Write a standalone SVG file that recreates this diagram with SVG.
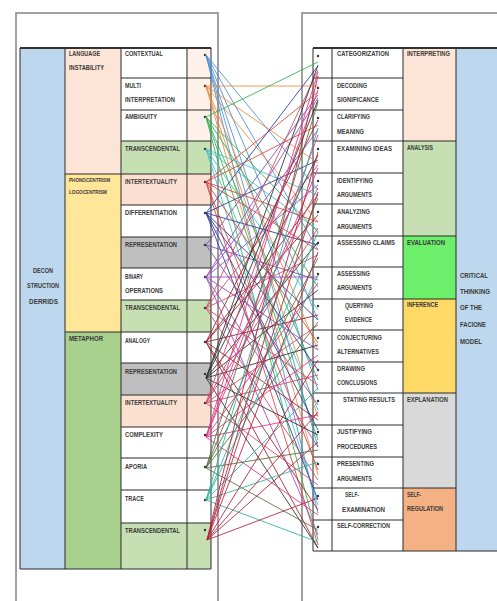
<svg xmlns="http://www.w3.org/2000/svg" width="497" height="601" viewBox="0 0 497 601">
<style>
text{font-family:"Liberation Sans",Arial,sans-serif;font-size:6.6px;font-weight:bold;fill:#3a3a3a}
.sm{font-size:5.6px}
.g{stroke:#2a2a2a;stroke-width:1;fill:none}
.frame{fill:#fff;stroke:#8a8a8a;stroke-width:1.6}
.dot{fill:#333}
#connectors line{stroke-width:1;opacity:.85}
.c1{stroke:#4a8fd6}.c2{stroke:#f08a3c}.c3{stroke:#2cb44c}.c4{stroke:#3cc6c6}
.c5{stroke:#e0403a}.c6{stroke:#2a3a9a}.c7{stroke:#7b4fb0}.c8{stroke:#9a48b8}
.c9{stroke:#d04a6a}.c10{stroke:#a0202a}.c11{stroke:#2e2e2e}.c12{stroke:#d8406a}
.c13{stroke:#e83080}.c14{stroke:#55703a}.c15{stroke:#28b4a0}.c16{stroke:#b8203c}
</style>
<rect width="497" height="601" fill="#fff"/>
<rect class="frame" x="16" y="13" width="202" height="592"/>
<rect class="frame" x="302" y="13" width="200" height="592"/>

<g id="left-table">
<rect x="20" y="48" width="45" height="521" fill="#bdd7ee"/>
<rect x="65" y="48" width="56" height="126" fill="#fce4d6"/>
<rect x="65" y="174" width="56" height="158" fill="#ffe699"/>
<rect x="65" y="332" width="56" height="237" fill="#a9d18e"/>
<rect x="121" y="48" width="66" height="93" fill="#fff"/>
<rect x="187" y="48" width="24" height="93" fill="#fdf1e9"/>
<rect x="121" y="141" width="90" height="33" fill="#c6e0b4"/>
<rect x="121" y="174" width="90" height="31" fill="#fbe0d2"/>
<rect x="121" y="205" width="90" height="32" fill="#fff"/>
<rect x="121" y="237" width="90" height="31" fill="#bfbfbf"/>
<rect x="121" y="268" width="90" height="32" fill="#fff"/>
<rect x="121" y="300" width="90" height="32" fill="#c6e0b4"/>
<rect x="121" y="332" width="90" height="31" fill="#fff"/>
<rect x="121" y="363" width="90" height="32" fill="#bfbfbf"/>
<rect x="121" y="395" width="90" height="32" fill="#fbe0d2"/>
<rect x="121" y="427" width="90" height="96" fill="#fff"/>
<rect x="121" y="523" width="90" height="46" fill="#c6e0b4"/>
<path class="g" d="M20 48H211M20 569H211M20 48V569M65 48V569M121 48V569M187 48V569M211 48V569"/>
<path class="g" d="M121 78H211M121 110H211M121 141H211M65 174H211M121 205H211M121 237H211M121 268H211M121 300H211M65 332H211M121 363H211M121 395H211M121 427H211M121 458H211M121 490H211M121 523H211"/>
<path d="M20 48H211" stroke="#333" stroke-width="2"/>
</g>

<g id="node-deconstruction"><text x="33" y="273" textLength="20" lengthAdjust="spacingAndGlyphs">DECON</text><text x="27" y="288" textLength="32" lengthAdjust="spacingAndGlyphs">STRUCTION</text><text x="29" y="304" textLength="29" lengthAdjust="spacingAndGlyphs">DERRIDS</text></g>
<g id="node-language-instability"><text x="69" y="56" textLength="31" lengthAdjust="spacingAndGlyphs" fill="#6b4a1a">LANGUAGE</text><text x="69" y="70" textLength="35" lengthAdjust="spacingAndGlyphs">INSTABILITY</text></g>
<g id="node-phonocentrism"><text class="sm" x="69" y="182" textLength="41" lengthAdjust="spacingAndGlyphs">PHONOCENTRISM</text><text class="sm" x="69" y="194" textLength="38" lengthAdjust="spacingAndGlyphs">LOGOCENTRISM</text></g>
<g id="node-metaphor"><text x="69" y="341" textLength="34" lengthAdjust="spacingAndGlyphs">METAPHOR</text></g>

<g id="node-l1"><text x="125" y="56" textLength="38" lengthAdjust="spacingAndGlyphs">CONTEXTUAL</text><circle class="dot" cx="205" cy="55" r="1.2"/></g>
<g id="node-l2"><text x="125" y="88" textLength="16" lengthAdjust="spacingAndGlyphs">MULTI</text><text x="125" y="102" textLength="50" lengthAdjust="spacingAndGlyphs">INTERPRETATION</text><circle class="dot" cx="205" cy="86" r="1.2"/></g>
<g id="node-l3"><text x="125" y="119" textLength="32" lengthAdjust="spacingAndGlyphs">AMBIGUITY</text><circle class="dot" cx="205" cy="117" r="1.2"/></g>
<g id="node-l4"><text x="125" y="151" textLength="55" lengthAdjust="spacingAndGlyphs">TRANSCENDENTAL</text><circle class="dot" cx="205" cy="149" r="1.2"/></g>
<g id="node-l5"><text x="125" y="184" textLength="52" lengthAdjust="spacingAndGlyphs">INTERTEXTUALITY</text><circle class="dot" cx="205" cy="182" r="1.2"/></g>
<g id="node-l6"><text x="125" y="215" textLength="52" lengthAdjust="spacingAndGlyphs">DIFFERENTIATION</text><circle class="dot" cx="205" cy="213" r="1.2"/></g>
<g id="node-l7"><text x="125" y="247" textLength="52" lengthAdjust="spacingAndGlyphs">REPRESENTATION</text><circle class="dot" cx="205" cy="245" r="1.2"/></g>
<g id="node-l8"><text x="125" y="279" textLength="18" lengthAdjust="spacingAndGlyphs">BINARY</text><text x="125" y="293" textLength="38" lengthAdjust="spacingAndGlyphs">OPERATIONS</text><circle class="dot" cx="205" cy="277" r="1.2"/></g>
<g id="node-l9"><text x="125" y="310" textLength="55" lengthAdjust="spacingAndGlyphs">TRANSCENDENTAL</text><circle class="dot" cx="205" cy="308" r="1.2"/></g>
<g id="node-l10"><text x="125" y="343" textLength="25" lengthAdjust="spacingAndGlyphs">ANALOGY</text><circle class="dot" cx="205" cy="342" r="1.2"/></g>
<g id="node-l11"><text x="125" y="374" textLength="52" lengthAdjust="spacingAndGlyphs">REPRESENTATION</text><circle class="dot" cx="205" cy="374" r="1.2"/></g>
<g id="node-l12"><text x="125" y="405" textLength="52" lengthAdjust="spacingAndGlyphs">INTERTEXTUALITY</text><circle class="dot" cx="205" cy="403" r="1.2"/></g>
<g id="node-l13"><text x="125" y="437" textLength="38" lengthAdjust="spacingAndGlyphs">COMPLEXITY</text><circle class="dot" cx="205" cy="435" r="1.2"/></g>
<g id="node-l14"><text x="125" y="469" textLength="22" lengthAdjust="spacingAndGlyphs">APORIA</text><circle class="dot" cx="205" cy="467" r="1.2"/></g>
<g id="node-l15"><text x="125" y="501" textLength="19" lengthAdjust="spacingAndGlyphs">TRACE</text><circle class="dot" cx="205" cy="500" r="1.2"/></g>
<g id="node-l16"><text x="125" y="533" textLength="55" lengthAdjust="spacingAndGlyphs">TRANSCENDENTAL</text><circle class="dot" cx="205" cy="530" r="1.2"/></g>

<g id="right-table">
<rect x="313" y="48" width="90" height="503" fill="#fff"/>
<rect x="403" y="48" width="53" height="93" fill="#fce4d6"/>
<rect x="403" y="141" width="53" height="95" fill="#c6e0b4"/>
<rect x="403" y="236" width="53" height="63" fill="#6cf06c"/>
<rect x="403" y="299" width="53" height="94" fill="#ffd966"/>
<rect x="403" y="393" width="53" height="95" fill="#d9d9d9"/>
<rect x="403" y="488" width="53" height="63" fill="#f4b183"/>
<rect x="456" y="48" width="41" height="503" fill="#bdd7ee"/>
<path class="g" d="M313 48H497M313 551H497M313 48V551M332 48V551M403 48V551M456 48V551"/>
<path class="g" d="M313 78H403M313 110H403M313 141H456M313 173H403M313 204H403M313 236H456M313 267H403M313 299H456M313 330H403M313 362H403M313 393H456M313 425H403M313 457H403M313 488H456M313 520H403"/>
<path d="M313 48H497" stroke="#333" stroke-width="2"/>
</g>

<g id="node-critical"><text x="460" y="278" textLength="28" lengthAdjust="spacingAndGlyphs">CRITICAL</text><text x="460" y="294" textLength="30" lengthAdjust="spacingAndGlyphs">THINKING</text><text x="460" y="310" textLength="22" lengthAdjust="spacingAndGlyphs">OF THE</text><text x="460" y="327" textLength="26" lengthAdjust="spacingAndGlyphs">FACIONE</text><text x="460" y="344" textLength="22" lengthAdjust="spacingAndGlyphs">MODEL</text></g>
<g id="node-interpreting"><text x="407" y="56" textLength="43" lengthAdjust="spacingAndGlyphs" fill="#6b3a1a">INTERPRETING</text></g>
<g id="node-analysis"><text x="407" y="150" textLength="26" lengthAdjust="spacingAndGlyphs" fill="#3a5a2a">ANALYSIS</text></g>
<g id="node-evaluation"><text x="407" y="245" textLength="38" lengthAdjust="spacingAndGlyphs" fill="#1f4a1f">EVALUATION</text></g>
<g id="node-inference"><text x="407" y="307" textLength="31" lengthAdjust="spacingAndGlyphs" fill="#6b4a1a">INFERENCE</text></g>
<g id="node-explanation"><text x="407" y="402" textLength="41" lengthAdjust="spacingAndGlyphs">EXPLANATION</text></g>
<g id="node-self-regulation"><text x="407" y="497" textLength="14" lengthAdjust="spacingAndGlyphs" fill="#6b3a1a">SELF-</text><text x="407" y="511" textLength="36" lengthAdjust="spacingAndGlyphs" fill="#6b3a1a">REGULATION</text></g>

<g id="node-r1"><text x="337" y="56" textLength="52" lengthAdjust="spacingAndGlyphs">CATEGORIZATION</text><circle class="dot" cx="318" cy="56" r="1.2"/></g>
<g id="node-r2"><text x="337" y="88" textLength="30" lengthAdjust="spacingAndGlyphs">DECODING</text><text x="337" y="102" textLength="42" lengthAdjust="spacingAndGlyphs">SIGNIFICANCE</text><circle class="dot" cx="318" cy="88" r="1.2"/></g>
<g id="node-r3"><text x="337" y="119" textLength="33" lengthAdjust="spacingAndGlyphs">CLARIFYING</text><text x="337" y="134" textLength="27" lengthAdjust="spacingAndGlyphs">MEANING</text><circle class="dot" cx="318" cy="118" r="1.2"/></g>
<g id="node-r4"><text x="337" y="151" textLength="55" lengthAdjust="spacingAndGlyphs">EXAMINING IDEAS</text><circle class="dot" cx="318" cy="149" r="1.2"/></g>
<g id="node-r5"><text x="337" y="183" textLength="36" lengthAdjust="spacingAndGlyphs">IDENTIFYING</text><text x="337" y="197" textLength="35" lengthAdjust="spacingAndGlyphs">ARGUMENTS</text><circle class="dot" cx="318" cy="181" r="1.2"/></g>
<g id="node-r6"><text x="337" y="214" textLength="33" lengthAdjust="spacingAndGlyphs">ANALYZING</text><text x="337" y="229" textLength="35" lengthAdjust="spacingAndGlyphs">ARGUMENTS</text><circle class="dot" cx="318" cy="212" r="1.2"/></g>
<g id="node-r7"><text x="337" y="245" textLength="58" lengthAdjust="spacingAndGlyphs">ASSESSING CLAIMS</text><circle class="dot" cx="318" cy="243" r="1.2"/></g>
<g id="node-r8"><text x="337" y="276" textLength="33" lengthAdjust="spacingAndGlyphs">ASSESSING</text><text x="337" y="290" textLength="35" lengthAdjust="spacingAndGlyphs">ARGUMENTS</text><circle class="dot" cx="318" cy="274" r="1.2"/></g>
<g id="node-r9"><text x="345" y="308" textLength="28" lengthAdjust="spacingAndGlyphs">QUERYING</text><text x="345" y="322" textLength="27" lengthAdjust="spacingAndGlyphs">EVIDENCE</text><circle class="dot" cx="318" cy="306" r="1.2"/></g>
<g id="node-r10"><text x="337" y="340" textLength="45" lengthAdjust="spacingAndGlyphs">CONJECTURING</text><text x="337" y="354" textLength="42" lengthAdjust="spacingAndGlyphs">ALTERNATIVES</text><circle class="dot" cx="318" cy="338" r="1.2"/></g>
<g id="node-r11"><text x="337" y="371" textLength="28" lengthAdjust="spacingAndGlyphs">DRAWING</text><text x="337" y="385" textLength="40" lengthAdjust="spacingAndGlyphs">CONCLUSIONS</text><circle class="dot" cx="318" cy="370" r="1.2"/></g>
<g id="node-r12"><text x="343" y="402" textLength="52" lengthAdjust="spacingAndGlyphs">STATING RESULTS</text><circle class="dot" cx="318" cy="401" r="1.2"/></g>
<g id="node-r13"><text x="337" y="434" textLength="35" lengthAdjust="spacingAndGlyphs">JUSTIFYING</text><text x="337" y="449" textLength="40" lengthAdjust="spacingAndGlyphs">PROCEDURES</text><circle class="dot" cx="318" cy="432" r="1.2"/></g>
<g id="node-r14"><text x="337" y="466" textLength="37" lengthAdjust="spacingAndGlyphs">PRESENTING</text><text x="337" y="481" textLength="35" lengthAdjust="spacingAndGlyphs">ARGUMENTS</text><circle class="dot" cx="318" cy="464" r="1.2"/></g>
<g id="node-r15"><text x="345" y="497" textLength="14" lengthAdjust="spacingAndGlyphs">SELF-</text><text x="342" y="512" textLength="43" lengthAdjust="spacingAndGlyphs">EXAMINATION</text><circle class="dot" cx="318" cy="496" r="1.2"/></g>
<g id="node-r16"><text x="337" y="528" textLength="53" lengthAdjust="spacingAndGlyphs">SELF-CORRECTION</text><circle class="dot" cx="318" cy="527" r="1.2"/></g>

<g id="connectors">
<line class="c1" x1="206" y1="55" x2="318" y2="190"/>
<line class="c1" x1="206" y1="55" x2="318" y2="250"/>
<line class="c1" x1="206" y1="55" x2="318" y2="320"/>
<line class="c1" x1="206" y1="55" x2="318" y2="390"/>
<line class="c1" x1="206" y1="55" x2="318" y2="447"/>
<line class="c1" x1="206" y1="55" x2="318" y2="513"/>
<line class="c2" x1="206" y1="86" x2="318" y2="86"/>
<line class="c2" x1="206" y1="86" x2="318" y2="163"/>
<line class="c2" x1="206" y1="86" x2="318" y2="222"/>
<line class="c2" x1="206" y1="86" x2="318" y2="350"/>
<line class="c2" x1="206" y1="86" x2="318" y2="417"/>
<line class="c2" x1="206" y1="86" x2="318" y2="475"/>
<line class="c3" x1="206" y1="117" x2="318" y2="62"/>
<line class="c3" x1="206" y1="117" x2="318" y2="287"/>
<line class="c3" x1="206" y1="117" x2="318" y2="380"/>
<line class="c3" x1="206" y1="117" x2="318" y2="440"/>
<line class="c3" x1="206" y1="117" x2="318" y2="540"/>
<line class="c3" x1="206" y1="117" x2="318" y2="232"/>
<line class="c4" x1="206" y1="149" x2="318" y2="195"/>
<line class="c4" x1="206" y1="149" x2="318" y2="230"/>
<line class="c4" x1="206" y1="149" x2="318" y2="310"/>
<line class="c4" x1="206" y1="149" x2="318" y2="410"/>
<line class="c4" x1="206" y1="149" x2="318" y2="505"/>
<line class="c5" x1="206" y1="182" x2="318" y2="92"/>
<line class="c5" x1="206" y1="182" x2="318" y2="125"/>
<line class="c5" x1="206" y1="182" x2="318" y2="222"/>
<line class="c5" x1="206" y1="182" x2="318" y2="250"/>
<line class="c5" x1="206" y1="182" x2="318" y2="343"/>
<line class="c5" x1="206" y1="182" x2="318" y2="470"/>
<line class="c5" x1="206" y1="182" x2="318" y2="545"/>
<line class="c6" x1="206" y1="213" x2="318" y2="66"/>
<line class="c6" x1="206" y1="213" x2="318" y2="160"/>
<line class="c6" x1="206" y1="213" x2="318" y2="245"/>
<line class="c6" x1="206" y1="213" x2="318" y2="320"/>
<line class="c6" x1="206" y1="213" x2="318" y2="370"/>
<line class="c6" x1="206" y1="213" x2="318" y2="430"/>
<line class="c6" x1="206" y1="213" x2="318" y2="500"/>
<line class="c7" x1="206" y1="245" x2="318" y2="95"/>
<line class="c7" x1="206" y1="245" x2="318" y2="280"/>
<line class="c7" x1="206" y1="245" x2="318" y2="405"/>
<line class="c8" x1="206" y1="277" x2="318" y2="98"/>
<line class="c8" x1="206" y1="277" x2="318" y2="130"/>
<line class="c8" x1="206" y1="277" x2="318" y2="185"/>
<line class="c8" x1="206" y1="277" x2="318" y2="277"/>
<line class="c8" x1="206" y1="277" x2="318" y2="350"/>
<line class="c8" x1="206" y1="277" x2="318" y2="447"/>
<line class="c8" x1="206" y1="277" x2="318" y2="535"/>
<line class="c9" x1="206" y1="308" x2="318" y2="70"/>
<line class="c9" x1="206" y1="308" x2="318" y2="165"/>
<line class="c9" x1="206" y1="308" x2="318" y2="255"/>
<line class="c9" x1="206" y1="308" x2="318" y2="385"/>
<line class="c9" x1="206" y1="308" x2="318" y2="480"/>
<line class="c10" x1="206" y1="342" x2="318" y2="120"/>
<line class="c10" x1="206" y1="342" x2="318" y2="195"/>
<line class="c10" x1="206" y1="342" x2="318" y2="215"/>
<line class="c10" x1="206" y1="342" x2="318" y2="315"/>
<line class="c10" x1="206" y1="342" x2="318" y2="420"/>
<line class="c10" x1="206" y1="342" x2="318" y2="510"/>
<line class="c10" x1="206" y1="342" x2="318" y2="548"/>
<line class="c11" x1="206" y1="378" x2="318" y2="65"/>
<line class="c11" x1="206" y1="378" x2="318" y2="100"/>
<line class="c11" x1="206" y1="378" x2="318" y2="155"/>
<line class="c11" x1="206" y1="378" x2="318" y2="242"/>
<line class="c11" x1="206" y1="378" x2="318" y2="290"/>
<line class="c11" x1="206" y1="378" x2="318" y2="345"/>
<line class="c11" x1="206" y1="378" x2="318" y2="435"/>
<line class="c11" x1="206" y1="378" x2="318" y2="548"/>
<line class="c12" x1="206" y1="403" x2="318" y2="90"/>
<line class="c12" x1="206" y1="403" x2="318" y2="188"/>
<line class="c12" x1="206" y1="403" x2="318" y2="228"/>
<line class="c12" x1="206" y1="403" x2="318" y2="325"/>
<line class="c12" x1="206" y1="403" x2="318" y2="375"/>
<line class="c12" x1="206" y1="403" x2="318" y2="485"/>
<line class="c13" x1="206" y1="437" x2="318" y2="72"/>
<line class="c13" x1="206" y1="437" x2="318" y2="135"/>
<line class="c13" x1="206" y1="437" x2="318" y2="168"/>
<line class="c13" x1="206" y1="437" x2="318" y2="283"/>
<line class="c13" x1="206" y1="437" x2="318" y2="355"/>
<line class="c13" x1="206" y1="437" x2="318" y2="415"/>
<line class="c13" x1="206" y1="437" x2="318" y2="515"/>
<line class="c14" x1="206" y1="468" x2="318" y2="102"/>
<line class="c14" x1="206" y1="468" x2="318" y2="198"/>
<line class="c14" x1="206" y1="468" x2="318" y2="258"/>
<line class="c14" x1="206" y1="468" x2="318" y2="322"/>
<line class="c14" x1="206" y1="468" x2="318" y2="450"/>
<line class="c14" x1="206" y1="468" x2="318" y2="530"/>
<line class="c15" x1="206" y1="500" x2="318" y2="128"/>
<line class="c15" x1="206" y1="500" x2="318" y2="232"/>
<line class="c15" x1="206" y1="500" x2="318" y2="275"/>
<line class="c15" x1="206" y1="500" x2="318" y2="388"/>
<line class="c15" x1="206" y1="500" x2="318" y2="462"/>
<line class="c15" x1="206" y1="500" x2="318" y2="542"/>
<line class="c16" x1="207" y1="540" x2="318" y2="76"/>
<line class="c16" x1="207" y1="540" x2="318" y2="152"/>
<line class="c16" x1="207" y1="540" x2="318" y2="192"/>
<line class="c16" x1="207" y1="540" x2="318" y2="252"/>
<line class="c16" x1="207" y1="540" x2="318" y2="360"/>
<line class="c16" x1="207" y1="540" x2="318" y2="412"/>
<line class="c16" x1="207" y1="540" x2="318" y2="442"/>
<line class="c16" x1="207" y1="540" x2="318" y2="498"/>
</g>
</svg>
